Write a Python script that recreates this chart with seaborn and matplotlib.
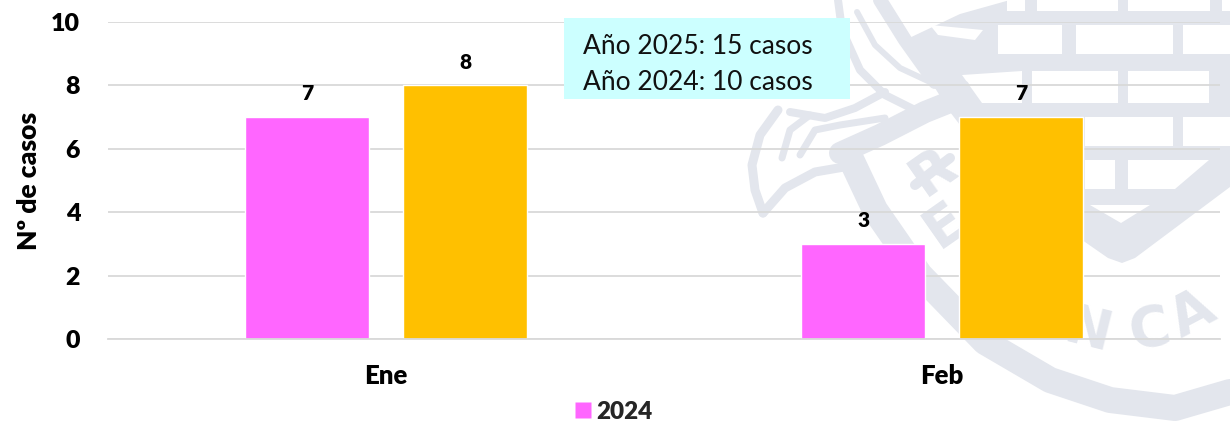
import pandas as pd
import matplotlib
matplotlib.use("Agg")
import matplotlib.pyplot as plt
from matplotlib.patches import Rectangle
from matplotlib.lines import Line2D
import seaborn as sns

months = ["Ene", "Feb"]
cases_2024 = [7, 3]
cases_2025 = [8, 7]
y_ticks = [0, 2, 4, 6, 8, 10]
note_lines = ["Año 2025: 15 casos", "Año 2024: 10 casos"]

W, H = 1230, 421
PINK = "#FF66FF"
ORANGE = "#FFC000"
MARK = "#E3E6ED"
HEAVY = 800

sns.set_theme(style="white")
plt.rcParams["font.family"] = ["Lato", "DejaVu Sans"]

df = pd.DataFrame({
    "Mes": months * 2,
    "Casos": cases_2024 + cases_2025,
    "Año": ["2024"] * 2 + ["2025"] * 2,
})

fig = plt.figure(figsize=(W / 100, H / 100), dpi=100)
fig.patch.set_facecolor("white")


def px(x, y):
    # reference pixels to figure fraction
    return x / W, 1 - y / H


# watermark behind the chart, rough copy of the logo, in reference pixels
bg = fig.add_axes([0, 0, 1, 1], zorder=0)
bg.set_xlim(0, W)
bg.set_ylim(H, 0)
bg.axis("off")


def band(points, width):
    xs, ys = zip(*points)
    bg.plot(xs, ys, color=MARK, lw=width * 0.72, solid_capstyle="round", solid_joinstyle="round")


# shield with the bricks cut out of it
bg.fill(*zip(*[(1010, 0), (1230, 0), (1230, 187), (1135, 258), (1122, 263), (1108, 258),
               (1010, 190), (950, 112), (905, 40), (960, 14)]), color=MARK, lw=0)
white_cuts = [
    [(1007, 0), (1025, 0), (1025, 11), (1007, 11)],
    [(1037, 0), (1118, 0), (1118, 11), (1037, 11)],
    [(1128, 0), (1210, 0), (1210, 11), (1128, 11)],
    [(1222, 0), (1230, 0), (1230, 11), (1222, 11)],
    [(998, 25), (1062, 25), (1062, 54), (998, 54)],
    [(1076, 25), (1173, 25), (1173, 54), (1076, 54)],
    [(1183, 25), (1230, 25), (1230, 54), (1183, 54)],
    [(962, 75), (1022, 71), (1022, 103), (982, 103)],
    [(1032, 71), (1118, 71), (1118, 103), (1032, 103)],
    [(1128, 71), (1209, 71), (1209, 103), (1128, 103)],
    [(1085, 117), (1173, 117), (1173, 146), (1085, 146)],
    [(1183, 117), (1230, 117), (1230, 146), (1183, 146)],
    [(1085, 160), (1115, 160), (1115, 189), (1085, 189)],
    [(1128, 160), (1209, 160), (1175, 189), (1128, 189)],
    [(1090, 205), (1150, 205), (1121, 223)],
    [(930, 25), (983, 30), (975, 40), (938, 35)],
]
for cut in white_cuts:
    bg.fill(*zip(*cut), color="white", lw=0)

band([(880, 0), (905, 40), (935, 82)], 14)
band([(838, 0), (842, 30), (860, 70), (885, 95), (915, 110), (945, 100), (965, 85)], 8)
band([(857, 12), (875, 45), (900, 68), (930, 82)], 6)
band([(840, 153), (880, 135), (925, 112), (955, 100)], 22)
band([(850, 157), (875, 210), (920, 275), (985, 342), (1050, 380), (1110, 400),
      (1175, 408), (1230, 392)], 26)
band([(790, 112), (825, 118), (855, 108), (885, 92)], 8)
band([(885, 118), (840, 125), (815, 130), (800, 155)], 7)
band([(810, 115), (790, 130), (782, 158)], 7)
band([(778, 110), (760, 135), (752, 165), (755, 190), (763, 213)], 9)
band([(763, 213), (785, 188), (815, 172), (850, 166)], 9)
band([(915, 185), (950, 158)], 10)
for letter, x, y, rot in [("R", 933, 172, 35), ("E", 945, 225, 35), ("N", 1088, 332, -14),
                          ("C", 1150, 330, 12), ("A", 1192, 314, 28)]:
    bg.text(x, y, letter, color=MARK, fontsize=40, fontweight="bold", rotation=rot,
            ha="center", va="center", fontfamily="DejaVu Sans")

ax = fig.add_axes([108 / W, 1 - 339 / H, (1220 - 108) / W, (339 - 22) / H], zorder=1)
ax.patch.set_alpha(0)
sns.barplot(
    data=df, x="Mes", y="Casos", hue="Año", order=months, hue_order=["2024", "2025"],
    palette=[PINK, ORANGE], width=0.568, gap=0.21, saturation=1, legend=False, ax=ax,
)
ax.set_xlim(-0.5, 1.5)
ax.set_ylim(0, 10)
ax.set_yticks(y_ticks)
ax.yaxis.grid(True, color="#D9D9D9", lw=1.3)
ax.set_axisbelow(True)
for side in ["top", "right", "left"]:
    ax.spines[side].set_visible(False)
ax.spines["bottom"].set_color("#D9D9D9")
ax.spines["bottom"].set_linewidth(1.3)
ax.tick_params(axis="both", length=0)
ax.tick_params(axis="y", pad=20)
ax.tick_params(axis="x", pad=18)
for lab in ax.get_yticklabels():
    lab.set_fontsize(18)
    lab.set_fontweight(HEAVY)
    lab.set_color("black")
for lab in ax.get_xticklabels():
    lab.set_fontsize(18.5)
    lab.set_fontweight(HEAVY)
    lab.set_color("black")
ax.set_xlabel("")
ax.set_ylabel("Nº de casos", fontsize=19, fontweight=HEAVY, color="black")
ax.yaxis.set_label_coords((41 - 108) / (1220 - 108), 0.5)

for cont in ax.containers:
    ax.bar_label(cont, padding=10, fontsize=15, fontweight=HEAVY, color="black")

# note box
fig.add_artist(Rectangle((564 / W, 1 - 99 / H), 286 / W, 81 / H, transform=fig.transFigure,
                         facecolor="#CCFFFF", edgecolor="none", zorder=3))
for text, y in zip(note_lines, [47, 83]):
    fig.text(*px(583, y), text, fontsize=19, color="#111111", va="center", ha="left", zorder=4)

# legend keeps only the 2024 entry, as in the reference
handle = Line2D([], [], marker="s", color="none", markerfacecolor=PINK, markeredgecolor="none", markersize=11)
fig.legend([handle], ["2024"], loc="center", bbox_to_anchor=px(606, 412), frameon=False,
           handletextpad=-0.45, borderpad=0, prop={"size": 17.5, "weight": HEAVY})

fig.savefig("out.png", dpi=100)
plt.close(fig)
